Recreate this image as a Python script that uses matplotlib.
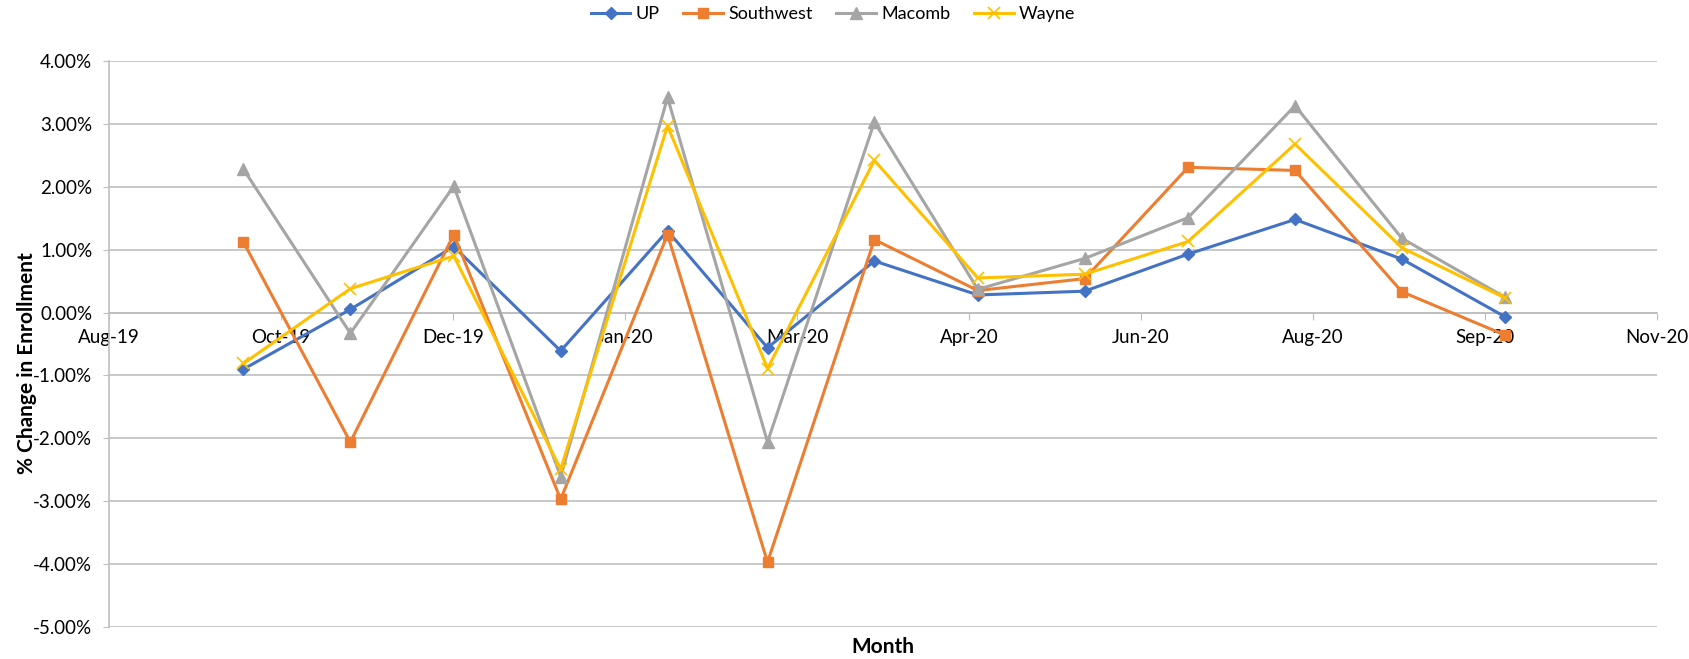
import matplotlib
matplotlib.use("Agg")
import matplotlib.pyplot as plt
import matplotlib.dates as mdates
import numpy as np
import pandas as pd

plt.rcParams['font.family'] = ['Lato', 'DejaVu Sans']

# monthly points, Sep-19 .. Sep-20
months = pd.date_range('2019-09-30', periods=13, freq='ME')
up = [-0.90, 0.05, 1.05, -0.61, 1.30, -0.56, 0.82, 0.28, 0.34, 0.93, 1.48, 0.85, -0.07]
southwest = [1.12, -2.06, 1.24, -2.97, 1.24, -3.97, 1.16, 0.35, 0.54, 2.31, 2.26, 0.33, -0.36]
macomb = [2.28, -0.33, 2.01, -2.61, 3.42, -2.06, 3.03, 0.37, 0.86, 1.51, 3.29, 1.18, 0.24]
wayne = [-0.81, 0.38, 0.90, -2.49, 2.97, -0.89, 2.42, 0.55, 0.61, 1.13, 2.68, 1.03, 0.23]

tick_labels = ['Aug-19', 'Oct-19', 'Dec-19', 'Jan-20', 'Mar-20', 'Apr-20',
               'Jun-20', 'Aug-20', 'Sep-20', 'Nov-20']
x_start = pd.Timestamp('2019-08-22')
x_end = pd.Timestamp('2020-11-13')

fig = plt.figure(figsize=(16.9, 6.59), dpi=100)
ax = fig.add_axes([0.0645, 0.0486, 0.916, 0.8588])

x = mdates.date2num(months)
ax.plot(x, up, color='#4472C4', lw=2.2, marker='D', ms=6.5, label='UP', zorder=3)
ax.plot(x, southwest, color='#ED7D31', lw=2.2, marker='s', ms=7.5, label='Southwest', zorder=4)
ax.plot(x, macomb, color='#A5A5A5', lw=2.2, marker='^', ms=8.5, label='Macomb', zorder=5)
ax.plot(x, wayne, color='#FFC000', lw=2.2, marker='x', ms=8, mew=1.2, label='Wayne', zorder=6)

x0, x1 = mdates.date2num(x_start), mdates.date2num(x_end)
ax.set_xlim(x0, x1)
ax.set_xticks(np.linspace(x0, x1, len(tick_labels)))
ax.set_xticklabels(tick_labels)

ax.set_ylim(-5, 4)
ax.set_yticks(np.arange(-5, 4.01, 1))
ax.set_yticklabels(['%.2f%%' % v for v in np.arange(-5, 4.01, 1)])
ax.grid(axis='y', color='#bfbfbf', lw=1.2)
ax.set_axisbelow(True)

for s in ['top', 'right']:
    ax.spines[s].set_visible(False)
ax.spines['bottom'].set_position(('data', 0))
ax.spines['bottom'].set_color('#bfbfbf')
ax.spines['left'].set_color('#bfbfbf')
ax.spines['bottom'].set_linewidth(1.2)
ax.spines['left'].set_linewidth(1.2)
ax.tick_params(axis='x', length=5, color='#bfbfbf', pad=7, labelsize=13.5)
ax.tick_params(axis='y', length=4, color='#bfbfbf', pad=8, labelsize=13.5)

fig.text(0.5225, 0.018, 'Month', ha='center', va='center', fontsize=15, fontweight='bold')
fig.text(0.016, 0.449, '% Change in Enrollment', ha='center', va='center',
         rotation=90, fontsize=15, fontweight='bold')

fig.legend(loc='center', bbox_to_anchor=(0.493, 0.978), ncol=4, frameon=False,
           fontsize=13, handlelength=2.2, handletextpad=0.3, columnspacing=1.3)

fig.savefig('out.png', dpi=100)
